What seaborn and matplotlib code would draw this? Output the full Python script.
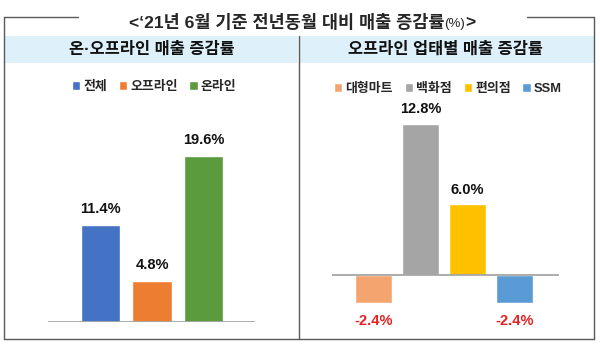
import matplotlib
matplotlib.use("Agg")
import matplotlib.pyplot as plt
from matplotlib.patches import Rectangle
from matplotlib.lines import Line2D
import seaborn as sns
import pandas as pd

# ---- data ----
title_main = "<‘21년 6월 기준 전년동월 대비 매출 증감률"
title_unit = "(%)"
title_end = ">"

left_header = "온·오프라인 매출 증감률"
left_cats = ["전체", "오프라인", "온라인"]
left_vals = [11.4, 4.8, 19.6]
left_colors = ["#4472C4", "#ED7D31", "#5B9B3D"]

right_header = "오프라인 업태별 매출 증감률"
right_cats = ["대형마트", "백화점", "편의점", "SSM"]
right_vals = [-2.4, 12.8, 6.0, -2.4]
right_colors = ["#F4A46E", "#A5A5A5", "#FFC000", "#5B9BD5"]

sns.set_theme(style="white")
plt.rcParams["font.family"] = ["Liberation Sans", "Noto Sans CJK KR", "DejaVu Sans"]

W, H = 600, 345
fig = plt.figure(figsize=(W / 100, H / 100), dpi=100)
fig.patch.set_facecolor("white")


def fx(x):
    return x / W


def fy(y):
    return 1 - y / H


# ---- frame and header bands ----
frame_c = "#595959"
for (x0, y0, x1, y1) in [(4, 17, 78, 17), (527, 17, 594, 17), (4, 17, 4, 339),
                         (594, 17, 594, 339), (4, 339, 594, 339), (298.5, 36, 298.5, 339)]:
    fig.add_artist(Line2D([fx(x0), fx(x1)], [fy(y0), fy(y1)], color=frame_c, lw=1.0))
for (x0, x1) in [(4.5, 298), (299, 593.5)]:
    fig.add_artist(Rectangle((fx(x0), fy(63)), fx(x1) - fx(x0), fy(36) - fy(63),
                             facecolor="#DEF0FA", edgecolor="none", zorder=0))

fig.text(fx(152), fy(49.5), left_header, ha="center", va="center",
         fontsize=11.8, fontweight="bold", color="#111111")
fig.text(fx(446), fy(49.5), right_header, ha="center", va="center",
         fontsize=11.8, fontweight="bold", color="#111111")

# ---- title, drawn in pieces so the unit can be lighter ----
fig.canvas.draw()
r = fig.canvas.get_renderer()
t1 = fig.text(0, fy(23), title_main, ha="left", va="center", fontsize=12.6, fontweight="bold")
t2 = fig.text(0, fy(24), title_unit, ha="left", va="center", fontsize=9.5, color="#222222")
t3 = fig.text(0, fy(23), title_end, ha="left", va="center", fontsize=12.6, fontweight="bold")
w1 = t1.get_window_extent(r).width
w2 = t2.get_window_extent(r).width
w3 = t3.get_window_extent(r).width
start = 302 - (w1 + w2 + w3) / 2
t1.set_x(fx(start))
t2.set_x(fx(start + w1))
t3.set_x(fx(start + w1 + w2))


def panel(rect_px, cats, vals, colors, xlim, ylim, width, legend_xy, pads):
    x0, y_top, x1, y_bot = rect_px
    ax = fig.add_axes([fx(x0), fy(y_bot), fx(x1) - fx(x0), fy(y_top) - fy(y_bot)])
    df = pd.DataFrame({"cat": cats, "val": vals})
    sns.barplot(data=df, x="cat", y="val", hue="cat", order=cats, hue_order=cats,
                palette=colors, saturation=1, width=width, errorbar=None,
                legend=True, ax=ax, zorder=2)
    ax.axhline(0, color="#A6A6A6", lw=1.3, zorder=3)
    ax.set_xlim(*xlim)
    ax.set_ylim(*ylim)
    ax.set_axis_off()
    for cont, v, pad in zip(ax.containers, vals, pads):
        ax.bar_label(cont, labels=[f"{v:.1f}%"], padding=pad, fontsize=10.5,
                     fontweight="bold", color="#E02424" if v < 0 else "#111111")
    sns.move_legend(ax, "center", bbox_to_anchor=(fx(legend_xy[0]), fy(legend_xy[1])),
                    bbox_transform=fig.transFigure, ncol=len(cats), frameon=False,
                    title=None, handlelength=0.65, handleheight=0.65, handletextpad=0.25,
                    columnspacing=0.9, prop={"weight": "bold", "size": 9.3})
    return ax


# left: 8.47 px per unit, baseline at y=322
panel((48, 75, 255, 322), left_cats, left_vals, left_colors,
      xlim=(-1.02, 3.0), ylim=(0, (322 - 75) / 8.47), width=0.76,
      legend_xy=(154, 87), pads=[6.5, 6.5, 6.5])

# right: 11.8 px per unit, baseline at y=275
panel((332, 75, 559, 330), right_cats, right_vals, right_colors,
      xlim=(-0.875, 3.94), ylim=(-(330 - 275) / 11.8, (275 - 75) / 11.8), width=0.79,
      legend_xy=(448, 89), pads=[7.5, 5.5, 5.5, 7.5])

fig.savefig("out.png", dpi=100)
